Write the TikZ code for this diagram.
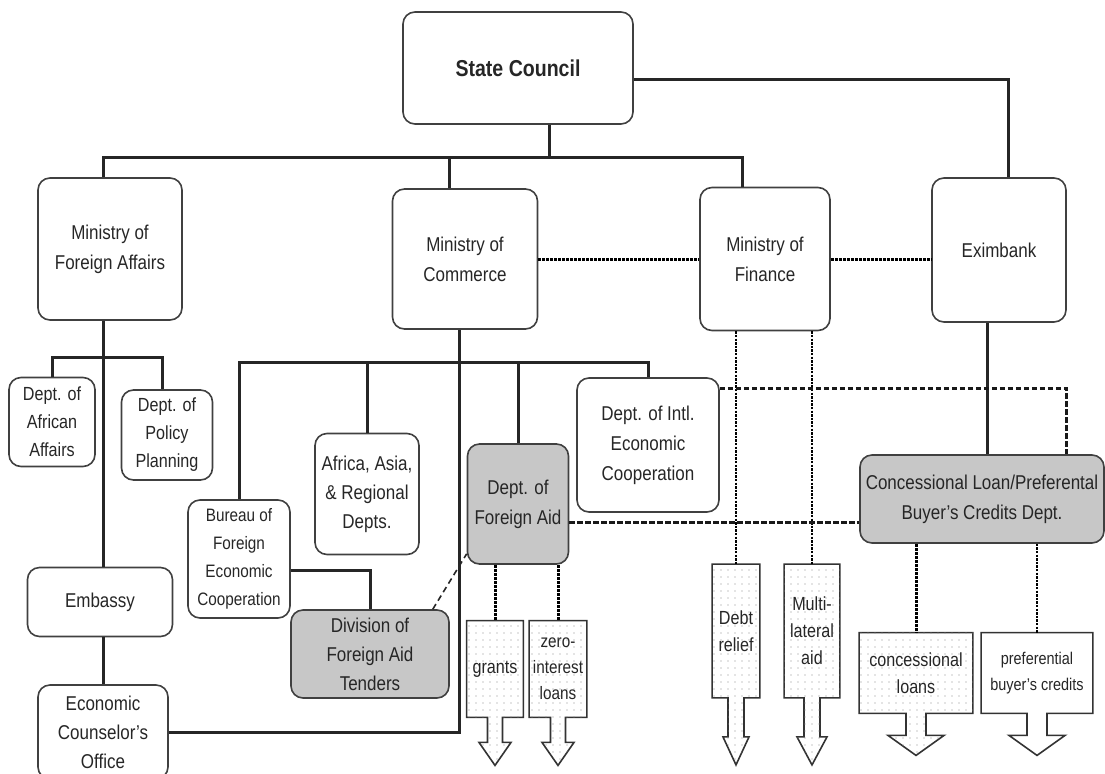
\documentclass[tikz,border=0pt]{standalone}
\usepackage{fontspec}
\setmainfont{Liberation Sans}[FakeStretch=0.85]
\usetikzlibrary{calc,backgrounds,patterns.meta}

\tikzset{
  org/.style={draw=black!75, line width=0.8pt, rounded corners=6pt, align=center, text=black!85, inner sep=2pt, font=\fontsize{10}{14.5}\selectfont},
  aid/.style={org, fill=black!22},
  sz/.style 2 args={minimum width=#1*0.5pt, minimum height=#2*0.5pt},
  link/.style={line width=1.5pt, draw=black!85},
  dotlink/.style={line width=1.5pt, draw=black, dash pattern=on 1.4pt off 0.6pt},
  dotthin/.style={line width=1.1pt, draw=black, dash pattern=on 1.2pt off 0.6pt},
  dashlink/.style={line width=1.5pt, draw=black!90, dash pattern=on 2.8pt off 1.2pt},
  dashthin/.style={line width=0.8pt, draw=black!85, dash pattern=on 3pt off 2pt},
  flow/.style={align=center, text=black!85, inner sep=1pt, font=\fontsize{9.5}{13.5}\selectfont},
  flowline/.style={draw=black!80, line width=0.8pt, fill=white},
  dotfill/.style={postaction={pattern={Dots[distance=3.5pt,radius=0.35pt]}, pattern color=black!45}}
}

\newcommand{\outarrow}[6][dotfill]{%
  \begin{scope}[on background layer]
  \draw[flowline,#1] (#2.north west) -- (#2.north east) -- (#2.south east)
    -- ($(#2.south)+(#3,0)$) -- ($(#2.south)+(#3,#5)$) -- ($(#2.south)+(#4,#5)$)
    -- ($(#2.south)+(0,#5+#6)$) -- ($(#2.south)+(-#4,#5)$) -- ($(#2.south)+(-#3,#5)$)
    -- ($(#2.south)+(-#3,0)$) -- (#2.south west) -- cycle;
  \end{scope}}

\begin{document}
\begin{tikzpicture}[x=0.5pt,y=-0.5pt]
\useasboundingbox (0,0) rectangle (1105,773);

\node[org, sz={230}{112}, font=\bfseries\fontsize{11.5}{14}\selectfont] (sc) at (518,68) {State Council};
\node[org, sz={144}{142}, font=\fontsize{10}{15}\selectfont] (mfa) at (110,249) {Ministry of\\Foreign Affairs};
\node[org, sz={145}{140}, font=\fontsize{10}{15}\selectfont] (moc) at (465,259) {Ministry of\\Commerce};
\node[org, sz={130}{143}, font=\fontsize{10}{15}\selectfont] (mof) at (765,259) {Ministry of\\Finance};
\node[org, sz={134}{144}] (exim) at (999,250) {Eximbank};

\node[org, sz={86}{89}, font=\fontsize{9.5}{14}\selectfont] (afr) at (52,422) {Dept. of\\African\\Affairs};
\node[org, sz={91}{90}, font=\fontsize{9.5}{14}\selectfont] (pol) at (167,435) {Dept. of\\Policy\\Planning};
\node[org, sz={145}{69}] (emb) at (100,602) {Embassy};
\node[org, sz={130}{94}] (eco) at (103,732) {Economic\\Counselor's\\Office};
\node[org, sz={102}{118}, font=\fontsize{9}{14}\selectfont] (bfec) at (239,559) {Bureau of\\Foreign\\Economic\\Cooperation};
\node[org, sz={104}{121}] (aar) at (367,494) {Africa, Asia,\\\& Regional\\Depts.};
\node[aid, sz={101}{120}, font=\fontsize{10}{15}\selectfont] (dfa) at (518,504) {Dept. of\\Foreign Aid};
\node[org, sz={142}{134}, font=\fontsize{10}{15}\selectfont] (diec) at (648,445) {Dept. of Intl.\\Economic\\Cooperation};
\node[aid, sz={158}{88}] (div) at (370,654) {Division of\\Foreign Aid\\Tenders};
\node[aid, sz={244}{88}, font=\fontsize{10}{15}\selectfont] (cld) at (982,499) {Concessional Loan/Preferental\\Buyer's Credits Dept.};

\node[flow, sz={56}{96}] (grants) at (495,669) {grants};
\node[flow, sz={57}{96}, font=\fontsize{9}{13}\selectfont] (zil) at (558,669) {zero-\\interest\\loans};
\node[flow, sz={47}{133}] (debt) at (736,631) {Debt\\relief};
\node[flow, sz={55}{133}] (mult) at (812,631) {Multi-\\lateral\\aid};
\node[flow, sz={113}{80}] (conc) at (916,673) {concessional\\loans};
\node[flow, sz={111}{80}, font=\fontsize{8.5}{13}\selectfont] (pref) at (1037,673) {preferential\\buyer's credits};

\outarrow{grants}{7.5}{16}{25}{23}
\outarrow{zil}{7.5}{16}{25}{23}
\outarrow{debt}{8}{13}{39}{28}
\outarrow{mult}{8}{15}{39}{28}
\outarrow{conc}{10}{28}{22}{20}
\outarrow[]{pref}{10}{28}{22}{20}

\coordinate (bar) at (549,157);
\coordinate (mfabar) at (103,357);
\coordinate (mocbar) at (459,362);
\coordinate (dfaout) at ($(dfa.east)+(0,18)$);

\draw[link] (sc.south -| bar) -- (bar);
\draw[link] (mfa.north -| mfabar) |- (bar) -| ($(mof.north)+(-23,0)$);
\draw[link] ($(moc.north)+(-16,0)$) |- (bar);
\draw[link] ($(sc.east)+(0,11)$) -| ($(exim.north)+(9,0)$);
\draw[link] (mfa.south -| mfabar) -- (emb.north -| mfabar);
\draw[link] (emb.south -| mfabar) -- (eco.north -| mfabar);
\draw[link] (afr.north) |- (mfabar) -| ($(pol.north)+(-5,0)$);
\draw[link] ($(moc.south)+(-6,0)$) |- (eco.east);
\draw[link] (bfec.north) |- (mocbar) -| (diec.north);
\draw[link] (aar.north) -- (aar.north |- mocbar);
\draw[link] (dfa.north) -- (dfa.north |- mocbar);
\draw[link] ($(bfec.east)+(0,11)$) -| (div.north);
\draw[link] ($(exim.south)+(-12,0)$) -- ($(exim.south |- cld.north)+(-12,0)$);

\draw[dotlink] (moc.east) -- (moc.east -| mof.west);
\draw[dotlink] (mof.east) -- (mof.east -| exim.west);
\draw[dotthin] (debt.north |- mof.south) -- (debt.north);
\draw[dotthin] (mult.north |- mof.south) -- (mult.north);
\draw[dashlink] ($(diec.north east)+(0,11)$) -| ($(cld.north east)+(-38,0)$);
\draw[dashlink] (dfaout) -- (dfaout -| cld.west);
\draw[dashthin] ($(div.north east)+(-17,0)$) -- ($(dfa.south west)+(0,-11)$);
\draw[dotlink] (grants.north |- dfa.south) -- (grants.north);
\draw[dotlink] (zil.north |- dfa.south) -- (zil.north);
\draw[dotlink] (conc.north |- cld.south) -- (conc.north);
\draw[dotthin] (pref.north |- cld.south) -- (pref.north);
\end{tikzpicture}
\end{document}
